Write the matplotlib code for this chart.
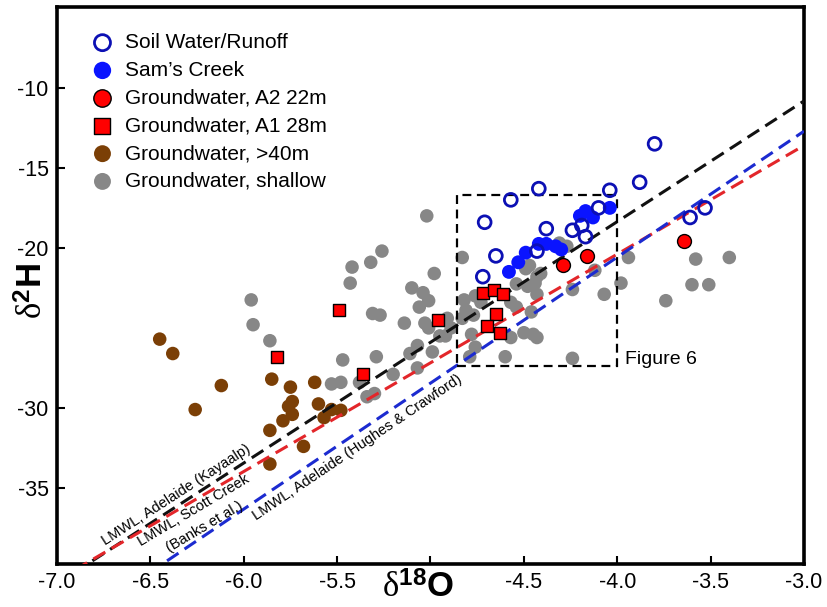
import numpy as np
import matplotlib
matplotlib.use("Agg")
import matplotlib.pyplot as plt
import matplotlib.patches as patches

plt.rcParams['font.family'] = ['Liberation Sans', 'DejaVu Sans']
plt.rcParams['axes.unicode_minus'] = False
plt.rcParams['mathtext.fontset'] = 'custom'
plt.rcParams['mathtext.rm'] = 'Liberation Serif'
plt.rcParams['mathtext.it'] = 'Liberation Serif:italic'
plt.rcParams['mathtext.bf'] = 'Liberation Sans:bold'

# --- data (d18O, d2H) ---
soil_x = [-3.80, -3.88, -4.04, -4.42, -4.57, -4.71, -4.38, -4.24, -4.19, -4.10,
          -4.17, -4.65, -4.43, -4.72, -3.61, -3.53]
soil_y = [-13.5, -15.9, -16.4, -16.3, -17.0, -18.4, -18.8, -18.9, -18.6, -17.5,
          -19.3, -20.5, -20.2, -21.8, -18.1, -17.5]

creek_x = [-4.58, -4.53, -4.49, -4.42, -4.38, -4.33, -4.30, -4.20, -4.17, -4.13, -4.04]
creek_y = [-21.5, -20.9, -20.3, -19.75, -19.75, -19.9, -20.1, -18.0, -17.7, -18.1, -17.5]

a2_x = [-4.29, -4.16, -3.64]
a2_y = [-21.1, -20.5, -19.6]

a1_x = [-4.96, -4.72, -4.66, -4.61, -4.65, -4.70, -4.63, -5.49, -5.82, -5.36]
a1_y = [-24.5, -22.8, -22.6, -22.9, -24.15, -24.9, -25.3, -23.9, -26.8, -27.9]

deep_x = [-6.45, -6.38, -6.12, -6.26, -5.85, -5.75, -5.62, -5.74, -5.76, -5.74,
          -5.79, -5.86, -5.60, -5.57, -5.53, -5.48, -5.68, -5.86]
deep_y = [-25.7, -26.6, -28.6, -30.1, -28.2, -28.7, -28.4, -29.6, -29.9, -30.4,
          -30.8, -31.4, -29.75, -30.6, -30.1, -30.15, -32.4, -33.5]

shallow_x = [-5.96, -5.95, -5.86, -5.42, -5.32, -5.26, -5.43, -5.31, -5.27, -5.47,
             -5.29, -5.53, -5.48, -5.38, -5.34, -5.30, -5.20, -5.02, -4.83, -4.98,
             -5.10, -5.04, -5.01, -5.06, -5.14, -5.03, -4.91, -4.89, -4.82, -4.76,
             -4.81, -4.83, -4.77, -4.92, -4.78, -4.76, -4.79, -5.07, -5.11, -4.99,
             -5.07, -4.60, -4.57, -4.50, -4.45, -4.73, -4.57, -4.54, -4.48, -4.44,
             -4.43, -4.46, -4.54, -4.49, -4.27, -4.47, -4.41, -3.94, -3.98, -4.07,
             -4.12, -4.24, -3.74, -3.60, -3.51, -3.58, -3.40, -4.24, -4.43, -4.95,
             -5.01, -4.31, -4.43]
shallow_y = [-23.25, -24.8, -25.8, -21.2, -20.9, -20.2, -22.2, -24.1, -24.2, -27.0,
             -26.8, -28.5, -28.4, -28.4, -29.3, -29.1, -27.9, -18.0, -20.6, -21.6,
             -22.5, -22.8, -23.3, -23.7, -24.7, -24.7, -24.4, -25.0, -23.25, -23.0,
             -23.9, -24.4, -24.2, -25.5, -25.4, -26.2, -26.8, -26.1, -26.6, -26.5,
             -27.5, -26.8, -25.6, -25.3, -25.4, -23.4, -23.4, -23.7, -22.4, -22.2,
             -22.9, -24.0, -22.25, -21.3, -19.9, -21.1, -21.6, -20.6, -22.2, -22.9,
             -21.4, -22.6, -23.3, -22.3, -22.3, -20.7, -20.6, -26.9, -25.6, -25.5,
             -25.0, -19.7, -21.8]

# meteoric water lines: d2H = slope * d18O + intercept
lmwl_names = ['Kayaalp', 'Banks', 'Hughes']
lmwl_slope = [7.54, 6.79, 7.87]
lmwl_intercept = [11.8, 6.77, 10.9]
lmwl_colors = ['#111111', '#e3262a', '#1c2bd0']

box_x = [-4.86, -4.0]
box_y = [-27.4, -16.7]

fig = plt.figure(figsize=(8.27, 6.07), dpi=100)
ax = fig.add_axes([0.0689, 0.0708, 0.9033, 0.9177])
ax.set_xlim(-7.0, -3.0)
ax.set_ylim(-39.75, -4.95)

ax.scatter(shallow_x, shallow_y, s=95, color='#878787', edgecolors='none',
           label='Groundwater, shallow', zorder=2)
ax.scatter(deep_x, deep_y, s=95, color='#7b3f06', edgecolors='none',
           label='Groundwater, >40m', zorder=2)

xl = np.array([-7.0, -3.0])
for sl, ic, c in zip(lmwl_slope, lmwl_intercept, lmwl_colors):
    ax.plot(xl, sl * xl + ic, color=c, lw=2.2, linestyle=(0, (4.5, 2.4)), zorder=3)

ax.scatter(a1_x, a1_y, s=80, marker='s', color='#ff0000', edgecolors='black',
           linewidths=1.0, label='Groundwater, A1 28m', zorder=4)
ax.scatter(a2_x, a2_y, s=100, color='#ff0000', edgecolors='black',
           linewidths=1.0, label='Groundwater, A2 22m', zorder=4)
ax.scatter(creek_x, creek_y, s=100, color='#0a14ff', edgecolors='none',
           label="Sam\u2019s Creek", zorder=5)
ax.scatter(soil_x, soil_y, s=85, facecolors='none', edgecolors='#0c10b4',
           linewidths=2.0, label='Soil Water/Runoff', zorder=5)

# Figure 6 box
rect = patches.Rectangle((box_x[0], box_y[0]), box_x[1] - box_x[0], box_y[1] - box_y[0],
                         fill=False, edgecolor='black', lw=1.6,
                         linestyle=(0, (4, 2.5)), zorder=3)
ax.add_patch(rect)
ax.text(-3.96, -26.95, 'Figure 6', fontsize=14, ha='left', va='center')

# line labels rotated along the lines
def line_angle(sl):
    p1 = ax.transData.transform((-6.0, sl * -6.0))
    p2 = ax.transData.transform((-5.0, sl * -5.0))
    return np.degrees(np.arctan2(p2[1] - p1[1], p2[0] - p1[0]))

ax.text(-6.36, -35.45, 'LMWL, Adelaide (Kayaalp)', fontsize=10.5,
        rotation=line_angle(lmwl_slope[0]), ha='center', va='center', rotation_mode='anchor')
ax.text(-6.27, -36.4, 'LMWL, Scott Creek', fontsize=10.5,
        rotation=line_angle(lmwl_slope[1]) + 0.5, ha='center', va='center', rotation_mode='anchor')
ax.text(-6.21, -37.45, '(Banks et al.)', fontsize=10.5,
        rotation=line_angle(lmwl_slope[1]) + 0.5, ha='center', va='center', rotation_mode='anchor')
ax.text(-5.39, -32.5, 'LMWL, Adelaide (Hughes & Crawford)', fontsize=10.5,
        rotation=line_angle(lmwl_slope[2]), ha='center', va='center', rotation_mode='anchor')

# axes styling
ax.set_xticks([-7.0, -6.5, -6.0, -5.5, -5.0, -4.5, -4.0, -3.5, -3.0])
ax.set_xticklabels(['-7.0', '-6.5', '-6.0', '-5.5', '', '-4.5', '-4.0', '-3.5', '-3.0'])
ax.set_yticks([-35, -30, -20, -15, -10])
ax.set_yticklabels(['-35', '-30', '-20', '-15', '-10'])
ax.tick_params(direction='in', length=6, width=1.5, labelsize=15.5, pad=6)
for sp in ax.spines.values():
    sp.set_linewidth(2.6)

ax.set_xlabel(r'$\mathrm{\delta}^{\mathbf{18}}\mathbf{O}$', fontsize=25, va='center')
ax.xaxis.set_label_coords(0.483, -0.044)
ax.set_ylabel(r'$\mathrm{\delta}^{\mathbf{2}}\mathbf{H}$', fontsize=25, va='center')
ax.yaxis.set_label_coords(-0.032, 0.49)

handles, labels = ax.get_legend_handles_labels()
order = ['Soil Water/Runoff', "Sam\u2019s Creek", 'Groundwater, A2 22m',
         'Groundwater, A1 28m', 'Groundwater, >40m', 'Groundwater, shallow']
hmap = dict(zip(labels, handles))
ax.legend([hmap[k] for k in order], order, loc='upper left', bbox_to_anchor=(0.033, 0.968),
          frameon=False, fontsize=15, markerscale=1.25, handletextpad=0.5,
          labelspacing=0.42, borderaxespad=0, handlelength=1.2)

fig.savefig('out.png', dpi=100)
